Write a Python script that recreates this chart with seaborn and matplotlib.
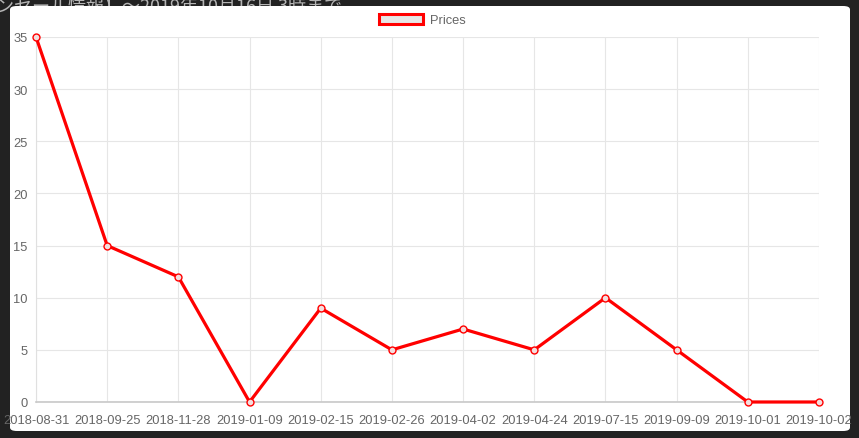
import matplotlib
matplotlib.use("Agg")
import matplotlib.pyplot as plt
import seaborn as sns
import pandas as pd
from matplotlib.patches import FancyBboxPatch, Patch

dates = ["2018-08-31", "2018-09-25", "2018-11-28", "2019-01-09", "2019-02-15",
         "2019-02-26", "2019-04-02", "2019-04-24", "2019-07-15", "2019-09-09",
         "2019-10-01", "2019-10-02"]
prices = [35, 15, 12, 0, 9, 5, 7, 5, 10, 5, 0, 0]
y_ticks = [0, 5, 10, 15, 20, 25, 30, 35]
series_name = "Prices"
bg_title = "ンセール情報】～2019年10月16日 3時まで"

sns.set_theme(style="white")
plt.rcParams['font.family'] = ['Liberation Sans', 'DejaVu Sans']

W, H = 859, 439
fig = plt.figure(figsize=(W / 100, H / 100), dpi=100)
fig.patch.set_facecolor('#222222')

# background page text (partly hidden behind the panel)
fig.text(-4 / W, 1 - 12 / H, bg_title, color='#b5b5b5', fontsize=13,
         family=['Noto Sans CJK JP', 'DejaVu Sans'], zorder=-5, ha='left', va='baseline')

panel = FancyBboxPatch((10 / W, 7 / H), 840 / W, 425 / H,
                       boxstyle="round,pad=0,rounding_size=0.008",
                       transform=fig.transFigure, facecolor='white',
                       edgecolor='none', zorder=-2)
fig.patches.append(panel)

ax = fig.add_axes([36 / W, 36 / H, (819 - 36) / W, (403 - 38) / H])
ax.set_facecolor('none')

df = pd.DataFrame({"date": dates, "price": prices})
sns.lineplot(data=df, x="date", y="price", ax=ax, color='#ff0000', linewidth=2.3,
             marker='o', markersize=5, markerfacecolor='#f3dede',
             markeredgecolor='#ff0000', markeredgewidth=1.0, sort=False,
             clip_on=False, zorder=5)

ax.set_xlim(0, len(dates) - 1)
ax.set_ylim(0, 35)
ax.set_yticks(y_ticks)
ax.set_xticks(range(len(dates)))
ax.set_xticklabels(dates)
ax.set_xlabel("")
ax.set_ylabel("")

for s in ['top', 'right']:
    ax.spines[s].set_visible(False)
ax.spines['left'].set_color('#e0e0e0')
ax.spines['left'].set_linewidth(0.8)
ax.spines['bottom'].set_color('#c8c8c8')
ax.spines['bottom'].set_linewidth(1.2)

ax.grid(True, color='#e6e6e6', linewidth=0.8)
ax.tick_params(axis='both', colors='#666666', labelsize=9.3, length=0)
ax.tick_params(axis='x', pad=9)
ax.tick_params(axis='y', pad=6)
for lbl in ax.get_xticklabels() + ax.get_yticklabels():
    lbl.set_color('#666666')

handle = Patch(facecolor='#e6e6e6', edgecolor='#ff0000', linewidth=2.2)
leg = fig.legend([handle], [series_name], loc='center', bbox_to_anchor=(422 / W, 1 - 21 / H),
                 frameon=False, fontsize=9.3, handlelength=3.4, handleheight=0.8,
                 handletextpad=0.55, borderaxespad=0)
for t in leg.get_texts():
    t.set_color('#666666')

fig.savefig("out.png", dpi=100, facecolor=fig.get_facecolor())
